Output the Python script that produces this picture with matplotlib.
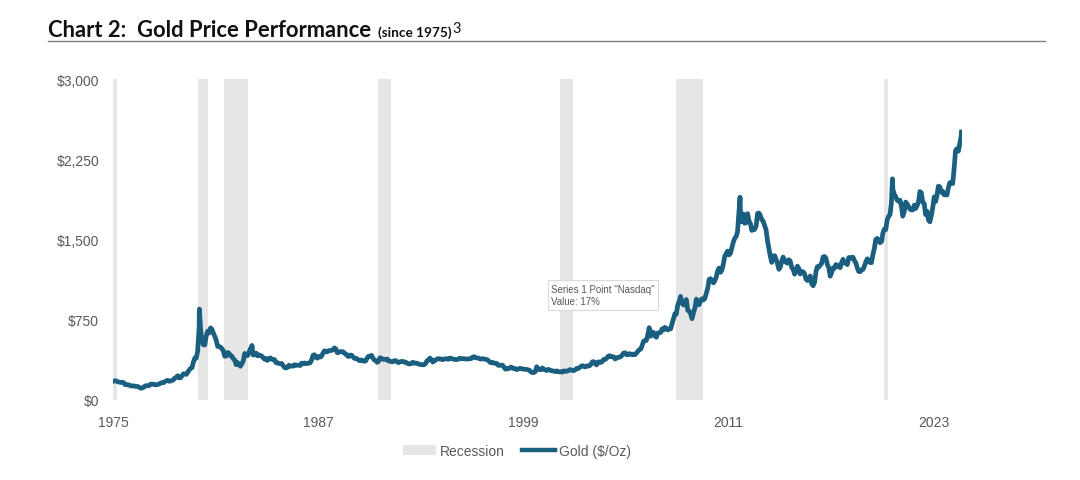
import pandas as pd
import matplotlib
matplotlib.use("Agg")
import matplotlib.pyplot as plt
import matplotlib.dates as mdates
from matplotlib.patches import Patch
from matplotlib.lines import Line2D

# monthly average gold price, $/oz, Jan 1975 .. Aug 2024
gold_monthly = [
    176, 180, 178, 170, 167, 164, 165, 163, 144, 142, 143, 140,   # 1975
    131, 131, 133, 128, 127, 126, 118, 110, 114, 117, 131, 134,   # 1976
    132, 136, 148, 149, 147, 141, 143, 145, 149, 159, 162, 161,   # 1977
    173, 179, 184, 175, 177, 183, 189, 206, 212, 227, 206, 208,   # 1978
    227, 245, 242, 239, 257, 279, 295, 301, 355, 392, 392, 456,   # 1979
    675, 665, 554, 517, 514, 600, 644, 627, 674, 661, 623, 594,   # 1980
    557, 500, 499, 495, 480, 461, 409, 410, 444, 437, 413, 410,   # 1981
    384, 374, 330, 350, 334, 315, 339, 364, 435, 422, 415, 444,   # 1982
    481, 491, 420, 432, 438, 413, 422, 416, 411, 394, 381, 388,   # 1983
    370, 386, 394, 381, 377, 378, 348, 348, 341, 340, 341, 320,   # 1984
    303, 299, 304, 325, 316, 317, 317, 330, 323, 326, 325, 322,   # 1985
    345, 339, 346, 340, 342, 343, 348, 376, 418, 423, 398, 391,   # 1986
    408, 401, 409, 438, 460, 450, 451, 461, 460, 465, 467, 487,   # 1987
    477, 442, 444, 452, 452, 451, 437, 431, 413, 406, 420, 419,   # 1988
    404, 388, 390, 385, 372, 367, 375, 365, 362, 367, 394, 409,   # 1989
    410, 417, 393, 374, 369, 352, 362, 395, 389, 380, 381, 378,   # 1990
    383, 364, 363, 358, 357, 367, 368, 356, 349, 358, 360, 361,   # 1991
    354, 354, 345, 338, 337, 341, 353, 343, 345, 344, 335, 334,   # 1992
    329, 329, 330, 342, 367, 372, 392, 379, 355, 364, 373, 383,   # 1993
    387, 382, 384, 377, 381, 386, 385, 380, 391, 389, 384, 379,   # 1994
    379, 377, 382, 391, 385, 387, 386, 383, 383, 383, 386, 387,   # 1995
    400, 405, 396, 393, 392, 385, 383, 387, 383, 381, 378, 369,   # 1996
    355, 347, 352, 344, 344, 341, 324, 324, 323, 325, 306, 289,   # 1997
    289, 297, 296, 308, 299, 292, 293, 284, 289, 296, 294, 291,   # 1998
    287, 287, 286, 282, 277, 262, 256, 257, 265, 311, 293, 283,   # 1999
    284, 300, 286, 280, 275, 286, 282, 274, 273, 270, 266, 272,   # 2000
    266, 262, 263, 261, 272, 270, 268, 273, 283, 283, 276, 275,   # 2001
    282, 296, 294, 302, 314, 321, 314, 310, 319, 317, 319, 333,   # 2002
    356, 359, 340, 328, 355, 356, 351, 360, 379, 379, 389, 407,   # 2003
    414, 405, 406, 403, 383, 392, 398, 400, 405, 420, 439, 442,   # 2004
    424, 423, 434, 429, 422, 430, 424, 437, 456, 470, 476, 510,   # 2005
    549, 555, 557, 610, 676, 596, 633, 632, 598, 586, 627, 629,   # 2006
    631, 665, 654, 679, 667, 655, 665, 665, 712, 754, 806, 803,   # 2007
    889, 922, 968, 909, 888, 890, 939, 839, 829, 806, 760, 816,   # 2008
    858, 943, 924, 890, 928, 946, 934, 949, 996, 1043, 1127, 1134,   # 2009
    1118, 1095, 1113, 1148, 1205, 1233, 1193, 1215, 1271, 1342, 1370, 1391,   # 2010
    1356, 1372, 1424, 1474, 1510, 1528, 1572, 1756, 1772, 1665, 1739, 1652,   # 2011
    1656, 1742, 1673, 1650, 1585, 1596, 1594, 1626, 1744, 1747, 1721, 1684,   # 2012
    1671, 1627, 1593, 1487, 1414, 1343, 1286, 1347, 1349, 1316, 1275, 1221,   # 2013
    1244, 1300, 1336, 1299, 1287, 1279, 1311, 1296, 1238, 1222, 1176, 1200,   # 2014
    1251, 1227, 1178, 1198, 1199, 1181, 1131, 1117, 1125, 1159, 1086, 1068,   # 2015
    1097, 1200, 1246, 1242, 1260, 1276, 1337, 1341, 1326, 1266, 1238, 1157,   # 2016
    1192, 1234, 1231, 1266, 1246, 1260, 1237, 1283, 1315, 1280, 1282, 1265,   # 2017
    1331, 1331, 1325, 1335, 1303, 1282, 1238, 1202, 1199, 1215, 1220, 1250,   # 2018
    1291, 1320, 1300, 1285, 1283, 1359, 1413, 1500, 1510, 1495, 1470, 1480,   # 2019
    1560, 1597, 1591, 1683, 1715, 1732, 1846, 1968, 1921, 1900, 1866, 1858,   # 2020
    1867, 1808, 1718, 1760, 1850, 1834, 1807, 1785, 1776, 1777, 1821, 1790,   # 2021
    1817, 1856, 1948, 1937, 1849, 1836, 1733, 1764, 1681, 1665, 1725, 1798,   # 2022
    1898, 1855, 1913, 1999, 1992, 1942, 1951, 1918, 1917, 1916, 1985, 2031,   # 2023
    2033, 2023, 2160, 2331, 2348, 2326, 2399, 2470,   # 2024
]

# intra-month highs that show up in the daily series
peak_dates = ["1980-01-21", "1983-02-15", "2011-09-06", "2020-08-06", "2024-08-20"]
peak_values = [850, 510, 1895, 2067, 2505]

recession_start = ["1975-01-01", "1980-01-01", "1981-07-01", "1990-07-01", "2001-03-01", "2007-12-01", "2020-02-01"]
recession_end = ["1975-03-31", "1980-07-31", "1982-11-30", "1991-03-31", "2001-11-30", "2009-06-30", "2020-04-30"]

y_ticks = [0, 750, 1500, 2250, 3000]
x_tick_years = [1975, 1987, 1999, 2011, 2023]

goldColor = "#1a5e80"
textColor = "#595959"
titleFont = ["Lato", "DejaVu Sans"]

dates = pd.date_range("1975-01-01", periods=len(gold_monthly), freq="MS") + pd.Timedelta(days=14)
gold = pd.Series(gold_monthly, index=dates)
gold = pd.concat([gold, pd.Series(peak_values, index=pd.to_datetime(peak_dates))]).sort_index()

plt.rcParams["font.family"] = ["Liberation Sans", "DejaVu Sans"]

W, H = 1080, 481
fig = plt.figure(figsize=(W / 100, H / 100), dpi=100)
ax = fig.add_axes([113 / W, 80 / H, (962 - 113) / W, 321 / H])

for s, e in zip(recession_start, recession_end):
    ax.axvspan(pd.Timestamp(s), pd.Timestamp(e), color="#e6e6e6", lw=0, zorder=1)

ax.plot(gold.index, gold.values, color=goldColor, lw=3.4, solid_joinstyle="round", zorder=3)

ax.set_xlim(pd.Timestamp("1975-01-01"), pd.Timestamp("2024-08-31"))
ax.set_ylim(0, 3000)
ax.set_yticks(y_ticks)
ax.set_yticklabels(["${:,}".format(v) for v in y_ticks])
ax.set_xticks([pd.Timestamp("%d-01-01" % y) for y in x_tick_years])
ax.xaxis.set_major_formatter(mdates.DateFormatter("%Y"))
ax.tick_params(length=0, labelsize=10, colors=textColor)
ax.tick_params(axis="y", pad=10)
ax.tick_params(axis="x", pad=11)
for sp in ax.spines.values():
    sp.set_visible(False)

# legend
handles = [Patch(facecolor="#e6e6e6", edgecolor="none"),
           Line2D([0], [0], color=goldColor, lw=3.2)]
fig.legend(handles, ["Recession", "Gold ($/Oz)"], loc="center", bbox_to_anchor=(517 / W, 1 - 452 / H),
           ncol=2, frameon=False, fontsize=10, labelcolor=textColor, handlelength=2.4,
           handletextpad=0.3, columnspacing=1.2)

# title, pieces chained left to right
renderer = fig.canvas.get_renderer()
t1 = fig.text(48 / W, 1 - 37 / H, "Chart 2:  Gold Price Performance", fontsize=15.8,
              fontweight="bold", family=titleFont, color="#111111", va="baseline")
x2 = t1.get_window_extent(renderer).x1 + 7
t2 = fig.text(x2 / W, 1 - 37 / H, "(since 1975)", fontsize=9.8, fontweight="bold",
              family=titleFont, color="#111111", va="baseline")
x3 = t2.get_window_extent(renderer).x1 + 1
fig.text(x3 / W, 1 - 33 / H, "3", fontsize=10.5, family=titleFont, color="#111111", va="baseline")
fig.add_artist(Line2D([48 / W, 1045 / W], [1 - 41.5 / H, 1 - 41.5 / H], color="#7f7f7f", lw=1.0))

# leftover hover tooltip from the source screenshot
fig.text(551 / W, 1 - 296 / H, 'Series 1 Point "Nasdaq"\nValue: 17%', fontsize=7,
         color=textColor, va="center", linespacing=1.35,
         bbox=dict(boxstyle="square,pad=0.35", fc="white", ec="#d9d9d9", lw=0.8))

fig.savefig("out.png", dpi=100)
